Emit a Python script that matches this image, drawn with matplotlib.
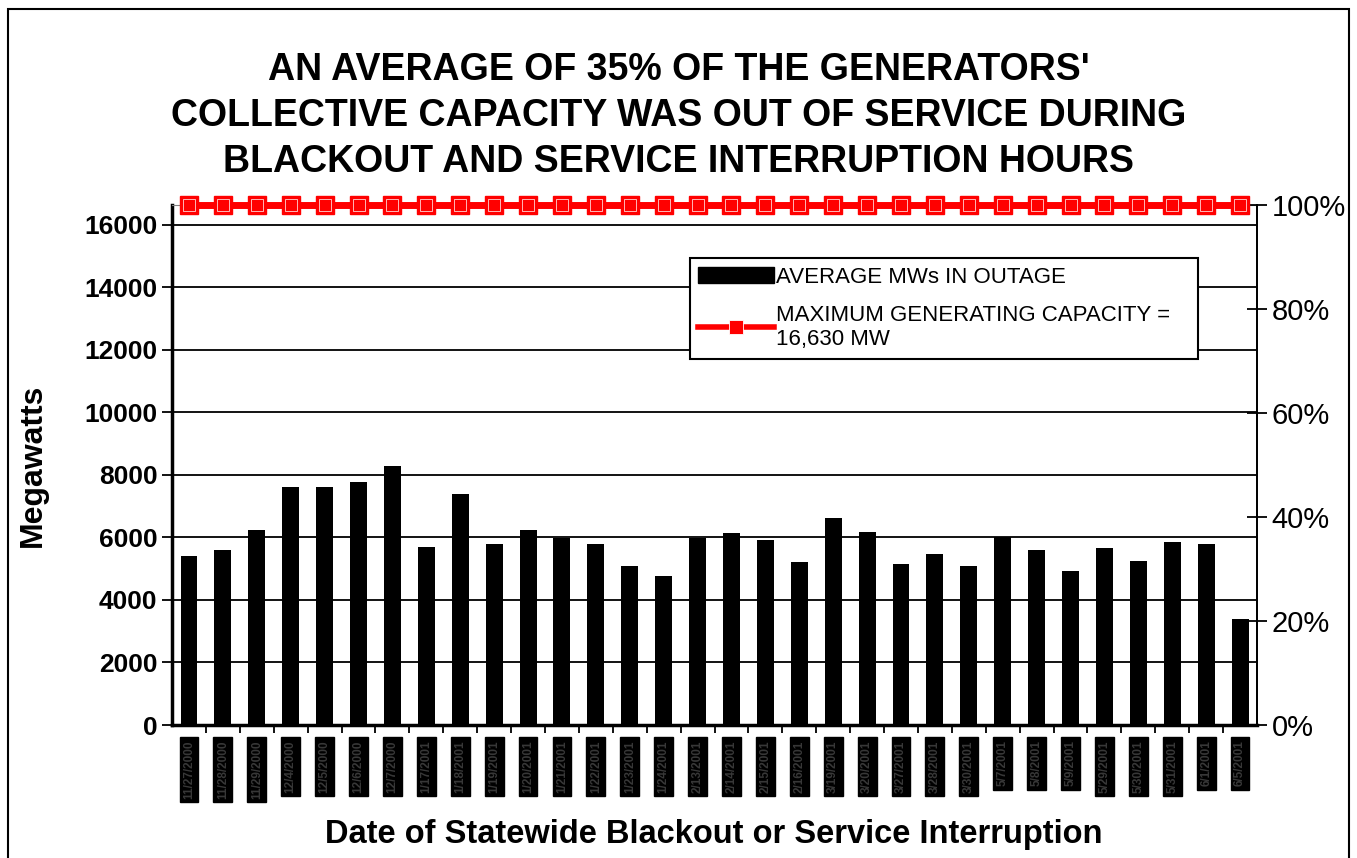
import matplotlib
matplotlib.use("Agg")
from matplotlib import pyplot as plt
from matplotlib.lines import Line2D
from matplotlib.patches import Patch, Rectangle
import numpy as np

plt.rcParams['font.family'] = ['Liberation Sans', 'DejaVu Sans']

# dates (labels are barely legible in the source, best guess)
dates = ['11/27/2000', '11/28/2000', '11/29/2000', '12/4/2000', '12/5/2000',
         '12/6/2000', '12/7/2000', '1/17/2001', '1/18/2001', '1/19/2001',
         '1/20/2001', '1/21/2001', '1/22/2001', '1/23/2001', '1/24/2001',
         '2/13/2001', '2/14/2001', '2/15/2001', '2/16/2001', '3/19/2001',
         '3/20/2001', '3/27/2001', '3/28/2001', '3/30/2001', '5/7/2001',
         '5/8/2001', '5/9/2001', '5/29/2001', '5/30/2001', '5/31/2001',
         '6/1/2001', '6/5/2001']
outage_mw = [5400, 5600, 6240, 7620, 7620, 7780, 8290, 5700, 7390, 5790,
             6240, 5980, 5790, 5090, 4770, 5980, 6140, 5920, 5220, 6620,
             6180, 5150, 5470, 5090, 6020, 5600, 4930, 5660, 5250, 5860,
             5790, 3390]
capacity_mw = 16630

x = np.arange(len(dates))

fig = plt.figure(figsize=(13.57, 8.58), dpi=100)
ax = fig.add_axes([0.1268, 0.155, 0.7995, 0.606])

# grid lines
for v in range(2000, 16001, 2000):
    ax.axhline(v, color='black', lw=1.3, zorder=1)

ax.bar(x, outage_mw, width=0.5, color='black', zorder=2)

ax.set_xlim(-0.5, len(dates) - 0.5)
ax.set_ylim(0, capacity_mw)
ax.set_yticks(range(0, 16001, 2000))
ax.set_yticklabels([str(v) for v in range(0, 16001, 2000)],
                   fontsize=19, fontweight='bold')
ax.tick_params(axis='y', direction='out', length=7, width=1.3)

ax.set_xticks(x)
ax.set_xticklabels(dates, rotation=90, fontsize=8.5, fontweight='bold',
                   color='#383838', va='top', ha='center',
                   bbox=dict(facecolor='black', edgecolor='black', pad=2.5))
ax.tick_params(axis='x', which='major', length=0, pad=11)
ax.set_xticks(x[:-1] + 0.5, minor=True)
ax.tick_params(axis='x', which='minor', direction='out', length=6, width=1.3)

for s in ['left', 'bottom']:
    ax.spines[s].set_linewidth(2.5)
ax.spines['top'].set_color('#808080')
ax.spines['right'].set_linewidth(1.3)

fig.text(33 / 1357, 1 - 465 / 858, 'Megawatts', rotation=90, ha='center',
         va='center', fontsize=23, fontweight='bold')
fig.text(714 / 1357, 1 - 835 / 858, 'Date of Statewide Blackout or Service Interruption',
         ha='center', va='center', fontsize=23.5, fontweight='bold')

# right axis: percent of capacity
ax2 = ax.twinx()
ax2.set_ylim(0, 100)
ax2.set_yticks(range(0, 101, 20))
ax2.set_yticklabels([f'{v}%' for v in range(0, 101, 20)], fontsize=21)
ax2.tick_params(axis='y', direction='inout', length=14, width=1.3)
ax2.spines['top'].set_visible(False)
ax2.spines['left'].set_visible(False)
ax2.spines['bottom'].set_visible(False)
ax2.spines['right'].set_linewidth(1.3)

cap = [100] * len(dates)
ax2.plot(x, cap, color='red', lw=5, marker='s', markersize=13,
         markerfacecolor='red', markeredgecolor='red', zorder=5, clip_on=False)
ax2.plot(x, cap, ls='none', marker='s', markersize=8,
         markerfacecolor='none', markeredgecolor='white', markeredgewidth=0.5,
         zorder=6, clip_on=False)

handles = [Patch(facecolor='black', edgecolor='black'),
           Line2D([], [], color='red', lw=4, marker='s', markersize=10,
                  markerfacecolor='red', markeredgecolor='white',
                  markeredgewidth=0.6)]
labels = ['AVERAGE MWs IN OUTAGE',
          'MAXIMUM GENERATING CAPACITY =   \n16,630 MW']
leg = ax2.legend(handles, labels, loc='upper left',
                 bbox_to_anchor=(0.477, 0.898), fontsize=16, frameon=True,
                 fancybox=False, edgecolor='black', framealpha=1,
                 handlelength=3.4, handletextpad=0.1, labelspacing=0.75,
                 borderpad=0.4, borderaxespad=0)
leg.get_frame().set_linewidth(1.5)

fig.text(0.5, 0.939, "AN AVERAGE OF 35% OF THE GENERATORS'\n"
         "COLLECTIVE CAPACITY WAS OUT OF SERVICE DURING\n"
         "BLACKOUT AND SERVICE INTERRUPTION HOURS",
         ha='center', va='top', fontsize=27, fontweight='bold',
         linespacing=1.35)

fig.patches.append(Rectangle((0.006, -0.01), 0.988, 1.0, transform=fig.transFigure,
                             fill=False, edgecolor='black', lw=1.5))

fig.savefig('out.png', dpi=100)
